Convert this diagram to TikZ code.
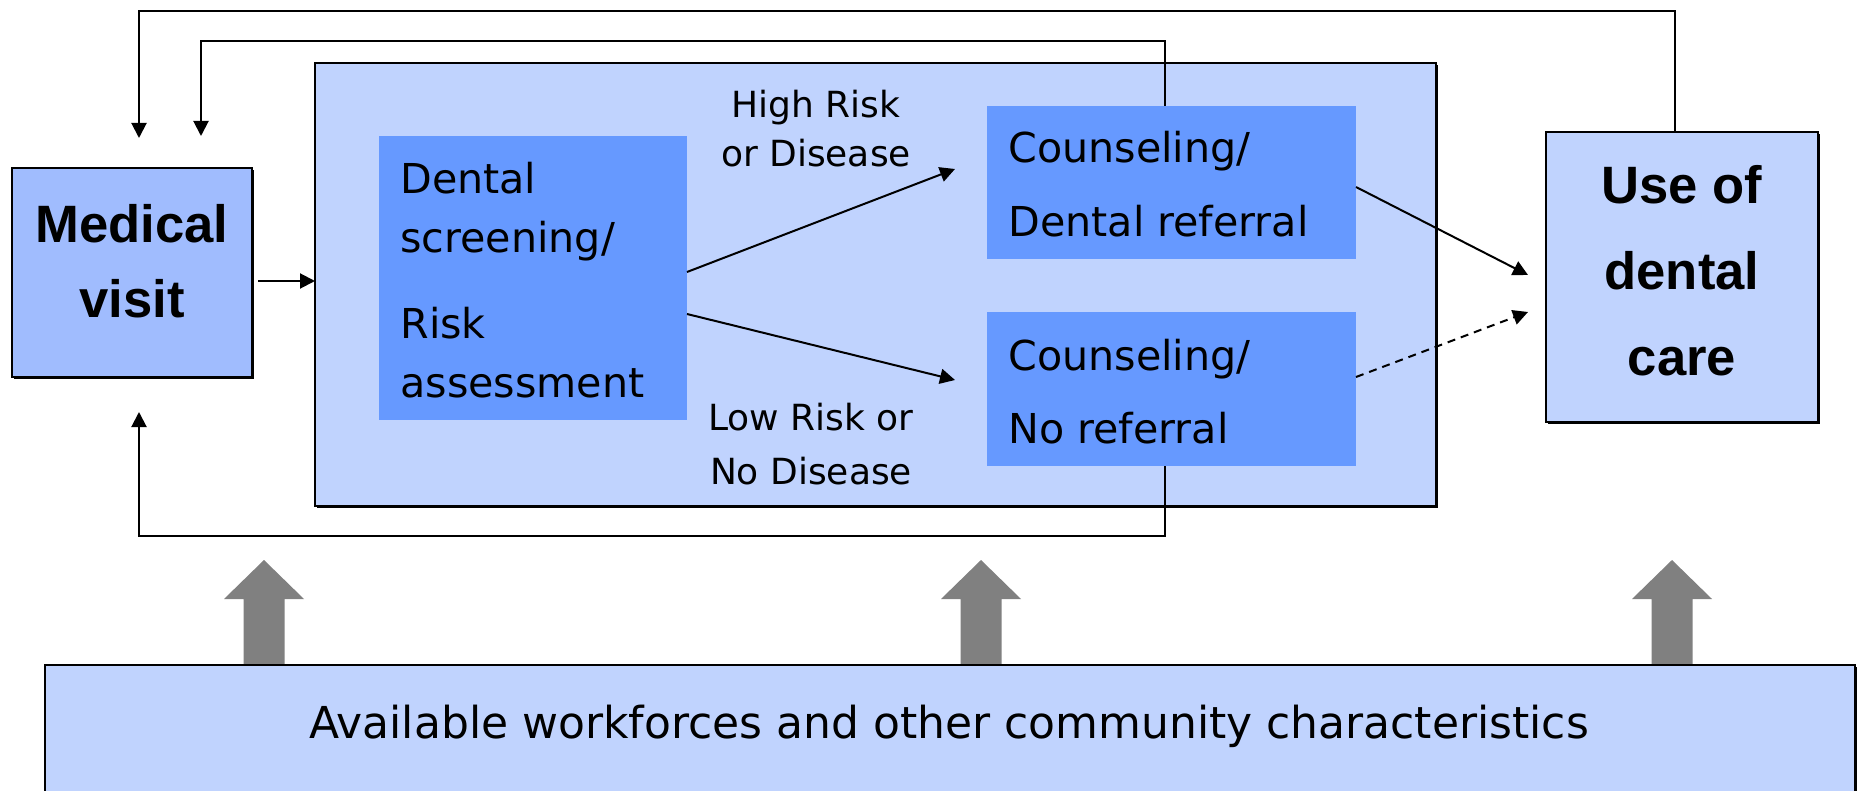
\documentclass[tikz,border=0pt]{standalone}
\usepackage{fontspec}
\setmainfont{DejaVu Sans}
\newfontfamily\headfont{Liberation Sans}
\usetikzlibrary{arrows.meta,shadows}
\definecolor{paleblue}{RGB}{192,211,254}
\definecolor{midblue}{RGB}{160,188,254}
\definecolor{stepblue}{RGB}{102,153,255}
\definecolor{liftgray}{RGB}{128,128,128}

\begin{document}
\begin{tikzpicture}[x=0.5pt,y=-0.5pt,
  frame/.style={draw=black, line width=1.2pt, inner sep=0pt, outer sep=0pt,
    drop shadow={shadow xshift=0.8pt, shadow yshift=-0.8pt, fill=black, opacity=1}},
  stage/.style={fill=stepblue, draw=none, inner sep=0pt, outer sep=0pt},
  body/.style={font=\fontsize{20.6}{24}\selectfont, inner sep=0pt, anchor=base west},
  head/.style={font=\headfont\bfseries\fontsize{26.3}{30}\selectfont, inner sep=0pt, anchor=base},
  tag/.style={font=\fontsize{18}{22}\selectfont, inner sep=0pt, anchor=base},
  link/.style={line width=1pt, -{Triangle[length=7.5pt,width=7.5pt]}},
]
\useasboundingbox (0,0) rectangle (1858,791);

% containers and stages
\node[frame, fill=paleblue, minimum width=560.5pt, minimum height=221.5pt] (outer) at (875.5,284.5) {};
\node[frame, fill=midblue, minimum width=120pt, minimum height=104.5pt] (med) at (132,272.5) {};
\node[stage, minimum width=154pt, minimum height=142pt] (scr) at (533,278) {};
\node[stage, minimum width=184.5pt, minimum height=76.5pt] (ref) at (1171.5,182.5) {};
\node[stage, minimum width=184.5pt, minimum height=77pt] (noref) at (1171.5,389) {};
\node[frame, fill=paleblue, minimum width=136pt, minimum height=145pt] (use) at (1682,277) {};

% community factors lifting the whole pathway
\foreach \gx in {264,981,1672}{
  \fill[liftgray] (\gx-20.5,665) -- (\gx-20.5,599) -- (\gx-40,599) -- (\gx,560)
    -- (\gx+40,599) -- (\gx+20.5,599) -- (\gx+20.5,665) -- cycle;
}
\node[frame, fill=paleblue, minimum width=905pt, minimum height=82.5pt] (comm) at (950,747.5) {};

% texts
\node[head] (medA) at (132,243) {Medical};
\node[head] (medB) at (132,318) {visit};
\node[body] (scrA) at (400,194) {Dental};
\node[body] (scrB) at (400,253) {screening/};
\node[body] (scrC) at (400,338) {Risk};
\node[body] (scrD) at (400,397) {assessment};
\node[body] (refA) at (1008,163) {Counseling/};
\node[body] (refB) at (1008,237) {Dental referral};
\node[body] (norA) at (1008,370) {Counseling/};
\node[body] (norB) at (1008,443) {No referral};
\node[head] (useA) at (1682,204) {Use of};
\node[head] (useB) at (1682,290) {dental};
\node[head] (useC) at (1682,375) {care};
\node[tag] (hiA) at (816,118) {High Risk};
\node[tag] (hiB) at (816,167) {or Disease};
\node[tag] (loA) at (811,430) {Low Risk or};
\node[tag] (loB) at (811,484) {No Disease};
\node[font=\fontsize{22}{26}\selectfont, inner sep=0pt, anchor=base] (commT) at (949,738)
  {Available workforces and other community characteristics};

% flow
\draw[link] ([shift={(6,8.5)}]med.east) coordinate (s1) -- (s1 -| outer.west);
\draw[link] ([shift={(0,-6)}]scr.east) -- ([shift={(-32,-13.5)}]ref.west);
\draw[link] ([shift={(0,36)}]scr.east) -- ([shift={(-32,-9)}]noref.west);
\draw[link] ([shift={(0,4.5)}]ref.east) -- ([shift={(-18,-2)}]use.west);
\draw[link, dash pattern=on 4pt off 3pt] ([shift={(0,-12)}]noref.east) -- ([shift={(-18,35)}]use.west);

% feedback loops back to the medical visit
\coordinate (topA) at (0,11);
\coordinate (topB) at (0,41);
\coordinate (botA) at (0,536);
\draw[link] ([shift={(-7,0)}]use.north) coordinate (u1) -- (u1 |- topA) -| ([shift={(7,-30)}]med.north);
\draw[link] ([shift={(-6.5,0)}]ref.north) coordinate (r1) -- (r1 |- topB) -| ([shift={(69,-32)}]med.north);
\draw[link] ([shift={(-6.5,0)}]noref.south) coordinate (n1) -- (n1 |- botA) -| ([shift={(7,35)}]med.south);
\end{tikzpicture}
\end{document}
